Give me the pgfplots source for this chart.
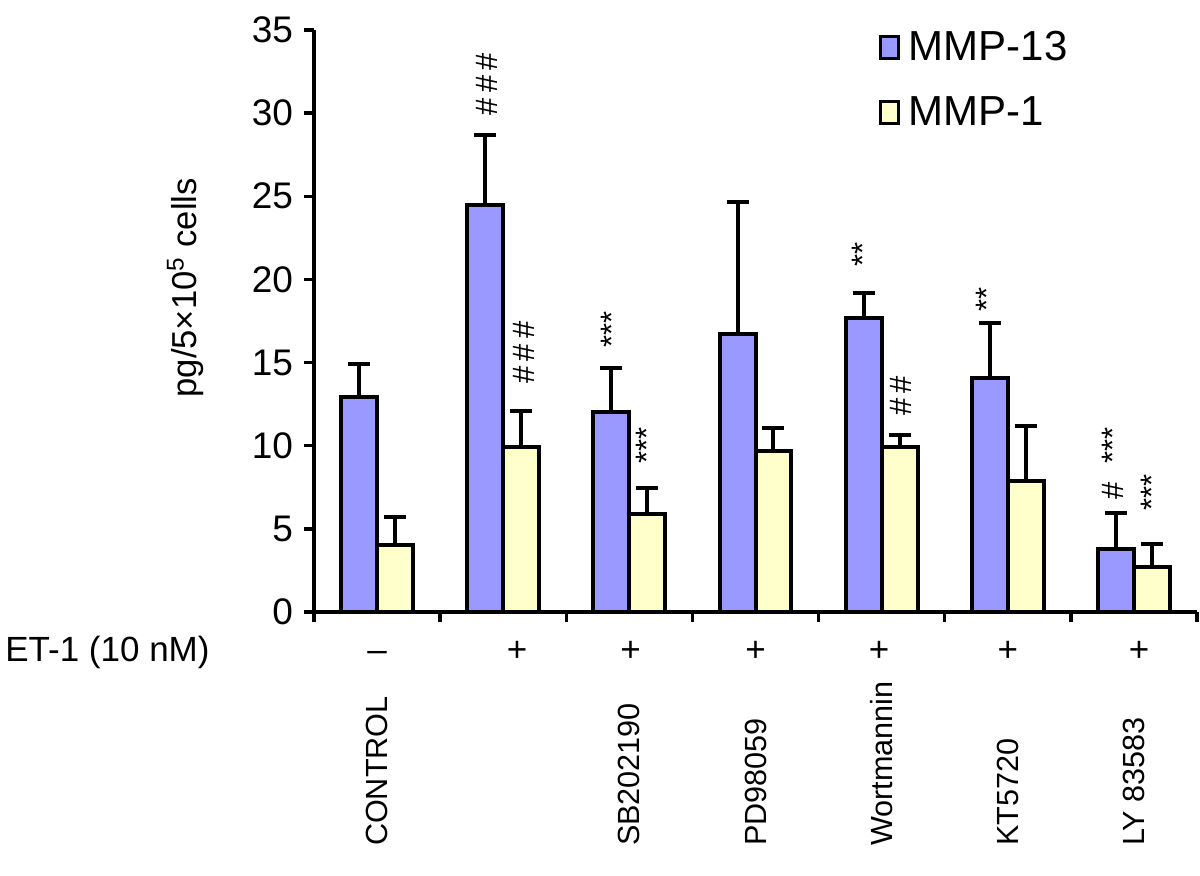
\documentclass[border=0pt]{standalone}
\usepackage{fontspec}
\setmainfont{Liberation Sans}
\usepackage{pgfplots}
\pgfplotsset{compat=1.18}
\usepackage{pgfplotstable}
\definecolor{mmpblue}{RGB}{153,153,255}
\definecolor{mmpyellow}{RGB}{255,255,204}
\pgfplotstableread{
x    y     e
0.5  12.9  2.0
1.5  24.5  4.2
2.5  12.0  2.7
3.5  16.7  7.95
4.5  17.7  1.5
5.5  14.1  3.3
6.5  3.8   2.15
}\mmpthirteen
\pgfplotstableread{
x    y     e
0.5  4.0   1.7
1.5  9.9   2.2
2.5  5.9   1.55
3.5  9.7   1.35
4.5  9.9   0.75
5.5  7.9   3.3
6.5  2.7   1.4
}\mmpone
\newcommand{\annot}{\fontsize{15.5}{16}\selectfont}
\newcommand{\rowfont}{\fontsize{17.5}{19}\selectfont}
\begin{document}
\begin{tikzpicture}
\begin{axis}[
  scale only axis, width=441.5pt, height=291pt,
  xmin=0, xmax=7, ymin=0, ymax=35,
  axis x line*=bottom, axis y line*=left,
  axis line style={line width=1.7pt, black},
  xtick={0,1,...,7}, xticklabels={},
  ytick={0,5,...,35},
  tick align=outside, major tick length=5pt,
  tick style={line width=1.7pt, black},
  /pgf/number format/assume math mode=true,
  yticklabel style={font=\fontsize{18.5}{20}\selectfont, xshift=-2pt},
  extra x ticks={0.5,1.5,...,6.5},
  extra x tick labels={CONTROL,,SB202190,PD98059,Wortmannin,KT5720,LY 83583},
  extra x tick style={major tick length=0pt, tick style={draw=none},
     xticklabel style={yshift=-120.5pt, rotate=90, anchor=west, font=\fontsize{15.3}{16}\selectfont}},
  ylabel={pg/5×10\textsuperscript{5} cells},
  ylabel style={at={(rel axis cs:-0.146,0.557)}, anchor=center, font=\fontsize{17.3}{19}\selectfont},
  ybar=0pt, bar width=0.285,
  legend style={at={(rel axis cs:0.6395,1.005)}, anchor=north west, draw=none, fill=none,
     font=\fontsize{21}{24}\selectfont, row sep=12.5pt, inner sep=0pt,
     /tikz/every odd column/.append style={column sep=2.5pt}},
  legend cell align=left,
  legend image code/.code={\draw[#1, line width=1.4pt] (0pt,-5.5pt) rectangle (9pt,5.5pt);},
  clip=false,
]
\addplot[fill=mmpblue, draw=black, line width=2pt,
  error bars/.cd, y dir=plus, y explicit,
  error bar style={line width=2pt, black},
  error mark options={rotate=90, line width=2pt, black, mark size=5.5pt}]
  table[x=x, y=y, y error=e] {\mmpthirteen};
\addlegendentry{MMP-13}
\addplot[fill=mmpyellow, draw=black, line width=2pt,
  error bars/.cd, y dir=plus, y explicit,
  error bar style={line width=2pt, black},
  error mark options={rotate=90, line width=2pt, black, mark size=5.5pt}]
  table[x=x, y=y, y error=e] {\mmpone};
\addlegendentry{MMP-1}

% significance marks
\node[rotate=90, font=\annot] at (axis cs:1.37,31.75) {\#\,\#\,\#};
\node[rotate=90, font=\annot] at (axis cs:1.665,15.6) {\#\,\#\,\#};
\node[rotate=90, font=\annot] at (axis cs:2.363,17.0) {***};
\node[rotate=90, font=\annot] at (axis cs:2.64,10.0) {***};
\node[rotate=90, font=\annot] at (axis cs:4.35,21.5) {**};
\node[rotate=90, font=\annot] at (axis cs:4.655,13.0) {\#\,\#};
\node[rotate=90, font=\annot] at (axis cs:5.337,18.8) {**};
\node[rotate=90, font=\annot] at (axis cs:6.336,10.0) {***};
\node[rotate=90, font=\annot] at (axis cs:6.336,7.3) {\#};
\node[rotate=90, font=\annot] at (axis cs:6.645,7.2) {***};

% ET-1 row
\node[anchor=base west, font=\rowfont, yshift=-25pt, inner sep=0pt] at (rel axis cs:-0.35,0) {ET-1 (10 nM)};
\node[anchor=base, font=\rowfont, yshift=-25pt, inner sep=0pt] at (axis cs:0.5,0) {–};
\node[anchor=base, font=\rowfont, yshift=-25pt, inner sep=0pt] at (axis cs:1.61,0) {+};
\node[anchor=base, font=\rowfont, yshift=-25pt, inner sep=0pt] at (axis cs:2.51,0) {+};
\node[anchor=base, font=\rowfont, yshift=-25pt, inner sep=0pt] at (axis cs:3.5,0) {+};
\node[anchor=base, font=\rowfont, yshift=-25pt, inner sep=0pt] at (axis cs:4.48,0) {+};
\node[anchor=base, font=\rowfont, yshift=-25pt, inner sep=0pt] at (axis cs:5.5,0) {+};
\node[anchor=base, font=\rowfont, yshift=-25pt, inner sep=0pt] at (axis cs:6.54,0) {+};

\coordinate (bbsw) at (rel axis cs:-0.3556,-0.4536);
\coordinate (bbne) at (rel axis cs:1.0034,1.0515);
\end{axis}
\pgfresetboundingbox
\path[use as bounding box] (bbsw) rectangle (bbne);
\end{tikzpicture}
\end{document}
